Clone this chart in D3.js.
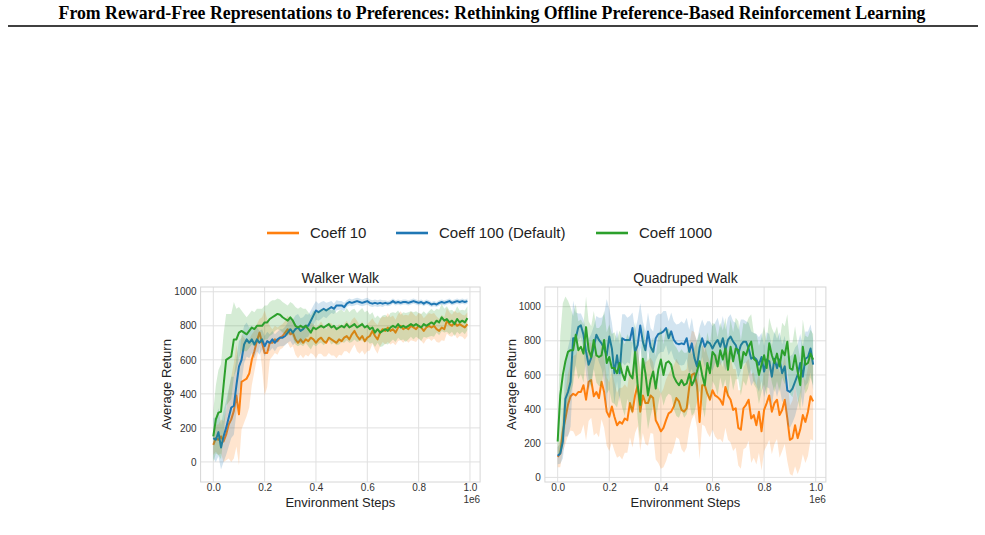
<!DOCTYPE html>
<meta charset="utf-8">
<script src="https://d3js.org/d3.v7.min.js"></script>
<style>
body { margin: 0; background: #fff; }
svg { display: block; font-family: "Liberation Sans", Arial, sans-serif; }
.grid line { stroke: #e0e0e0; stroke-width: 1px; }
.tick text { font-size: 10px; fill: #333; }
.frame { fill: none; stroke: #d6d6d6; stroke-width: 1px; }
</style>
<body></body>
<script>

// x positions, in units of 1e6 environment steps
var steps = [0,0.01,0.02,0.03,0.04,0.05,0.06,0.07,0.08,0.09,
  0.1,0.11,0.12,0.13,0.14,0.15,0.16,0.17,0.18,0.19,
  0.2,0.21,0.22,0.23,0.24,0.25,0.26,0.27,0.28,0.29,
  0.3,0.31,0.32,0.33,0.34,0.35,0.36,0.37,0.38,0.39,
  0.4,0.41,0.42,0.43,0.44,0.45,0.46,0.47,0.48,0.49,
  0.5,0.51,0.52,0.53,0.54,0.55,0.56,0.57,0.58,0.59,
  0.6,0.61,0.62,0.63,0.64,0.65,0.66,0.67,0.68,0.69,
  0.7,0.71,0.72,0.73,0.74,0.75,0.76,0.77,0.78,0.79,
  0.8,0.81,0.82,0.83,0.84,0.85,0.86,0.87,0.88,0.89,
  0.9,0.91,0.92,0.93,0.94,0.95,0.96,0.97,0.98,0.99];

var seriesNames = ['Coeff 10', 'Coeff 100 (Default)', 'Coeff 1000'];
var seriesColors = ['#ff7f0e', '#1f77b4', '#2ca02c'];

var xTicks = [0, 0.2, 0.4, 0.6, 0.8, 1.0];
var yTicks = [0, 200, 400, 600, 800, 1000];

// ---- Walker Walk ----
var walkerC10 = [100,140,130,150,120,160,220,250,300,390,
  280,470,480,490,520,600,650,710,760,700,
  640,640,700,700,720,710,730,740,760,780,
  750,760,720,700,720,700,720,710,730,720,
  700,720,730,710,700,730,720,710,700,720,
  710,730,740,720,750,770,740,720,740,710,
  730,740,770,740,720,760,780,770,790,770,
  780,760,790,800,780,790,780,800,790,780,
  800,790,770,790,800,790,800,780,770,790,
  780,830,810,800,820,800,810,800,790,810];
var walkerC10Std = [60,80,90,100,120,150,200,250,280,300,
  300,280,250,220,200,150,120,100,80,150,
  250,200,100,80,80,80,70,70,70,80,
  80,80,90,90,90,90,90,90,90,90,
  90,85,95,90,80,90,95,85,90,90,
  85,80,90,85,85,80,90,85,85,80,
  80,85,75,80,85,80,75,80,85,80,
  80,75,80,85,80,75,80,85,80,75,
  75,80,75,70,75,80,75,75,70,75,
  70,75,70,65,70,75,70,65,70,70];
var walkerC100 = [140,130,175,85,150,200,260,320,330,450,
  560,600,690,720,700,720,690,720,700,720,
  680,710,700,720,700,720,730,730,740,760,
  780,760,780,790,770,780,800,800,830,860,
  890,880,890,900,890,900,910,900,920,920,
  920,910,930,940,935,940,945,940,935,940,
  945,935,930,935,930,935,930,935,930,935,
  945,935,940,935,940,940,935,940,945,940,
  935,940,930,940,935,925,930,925,935,940,
  935,940,945,935,940,945,940,945,940,945];
var walkerC100Std = [120,130,140,130,150,160,170,180,170,160,
  150,130,110,100,90,80,80,70,70,60,
  60,55,50,50,50,45,50,50,55,60,
  70,75,80,80,75,70,70,65,60,60,
  55,50,50,45,45,40,35,30,30,25,
  25,25,20,20,20,20,20,20,20,20,
  20,20,20,20,20,20,20,15,15,15,
  15,15,15,15,15,15,15,15,15,15,
  15,15,15,15,15,15,15,15,15,15,
  15,15,15,15,15,15,15,15,15,15];
var walkerC1000 = [150,250,290,295,450,600,610,620,720,720,
  760,770,760,750,770,790,780,800,800,800,
  820,820,840,850,860,870,865,850,840,830,
  850,830,800,790,800,790,800,780,760,790,
  780,790,800,790,800,810,790,800,780,790,
  800,790,810,790,800,810,790,800,810,790,
  800,780,790,760,780,760,770,780,770,790,
  800,790,810,790,800,790,800,810,800,810,
  800,790,810,800,810,820,810,830,820,850,
  830,840,820,830,810,840,820,830,820,845];
var walkerC1000Std = [150,200,250,280,300,270,260,250,220,180,
  150,120,110,100,100,100,100,100,100,100,
  100,100,100,100,90,90,90,90,90,90,
  90,100,110,110,110,110,100,100,100,100,
  100,95,100,105,100,95,100,100,95,100,
  95,90,95,90,95,90,85,90,95,90,
  90,85,90,85,80,85,90,85,80,85,
  80,85,80,75,80,85,80,75,80,75,
  75,80,75,70,75,80,75,70,75,80,
  70,75,70,65,70,75,70,65,70,70];

// ---- Quadruped Walk ----
var quadC10 = [120,140,270,345,425,475,490,480,500,500,
  540,455,560,570,475,500,465,560,500,385,
  355,415,355,305,325,315,345,335,435,385,
  480,540,385,480,435,435,480,465,335,305,
  270,290,335,375,385,415,465,445,395,385,
  405,530,600,610,540,325,540,540,490,455,
  510,480,470,455,425,530,480,455,395,405,
  290,280,405,425,455,345,365,305,385,270,
  395,435,480,385,435,455,365,395,455,345,
  220,230,305,230,280,365,325,385,475,445];
var quadC10Std = [60,80,120,150,180,200,220,240,250,240,
  230,240,230,220,230,240,230,220,210,200,
  200,210,200,190,200,210,200,190,200,210,
  220,240,230,220,240,250,220,210,230,220,
  220,230,240,230,250,240,230,220,230,240,
  230,250,260,240,250,220,230,240,230,220,
  230,240,250,230,220,240,260,250,240,230,
  220,230,240,250,240,260,250,230,240,230,
  240,250,260,250,240,230,250,240,260,250,
  200,220,240,210,220,230,240,260,250,230];
var quadC100 = [127,140,210,460,500,560,815,815,880,890,
  835,735,660,700,765,835,805,785,755,715,
  825,755,610,715,610,815,805,805,805,875,
  735,775,890,795,745,855,765,735,815,840,
  845,855,875,815,855,805,785,780,785,780,
  815,735,785,700,650,760,815,765,795,785,
  755,785,805,765,815,745,805,825,795,775,
  725,775,795,795,755,695,705,690,660,705,
  620,690,680,590,695,640,690,610,650,510,
  500,520,560,600,670,590,695,705,755,660];
var quadC100Std = [50,60,100,220,260,260,220,150,80,70,
  90,130,150,140,120,110,130,150,200,330,
  160,150,180,150,170,140,150,130,140,90,
  130,150,130,120,110,110,110,120,130,120,
  110,120,100,100,110,110,110,120,130,120,
  120,130,150,140,150,120,110,120,120,130,
  130,120,130,110,130,120,130,130,120,130,
  140,150,130,120,150,160,140,150,160,140,
  150,160,160,180,160,170,160,170,180,200,
  210,200,200,180,170,180,160,150,140,150];
var quadC1000 = [210,480,600,680,735,745,745,835,745,765,
  725,880,745,705,805,715,705,715,805,670,
  705,640,640,610,670,610,570,650,600,580,
  735,540,425,695,610,480,570,620,520,630,
  690,600,670,680,660,590,560,540,570,540,
  550,605,540,570,620,680,600,540,670,610,
  735,715,650,745,690,755,630,765,680,755,
  745,640,735,715,765,795,695,680,600,660,
  715,640,785,715,670,725,650,745,715,795,
  640,630,715,620,540,765,660,670,725,690];
var quadC1000Std = [70,350,420,380,300,250,200,180,170,160,
  170,180,170,180,170,160,170,180,170,180,
  190,200,210,200,190,200,210,190,200,210,
  180,200,210,200,190,200,210,200,190,200,
  190,180,200,190,180,190,200,190,180,190,
  180,170,180,190,180,170,180,190,180,170,
  170,180,170,160,170,180,170,160,170,180,
  170,160,170,180,170,160,150,160,170,160,
  170,160,150,160,170,160,150,160,170,160,
  150,160,170,160,150,160,170,150,140,150];

var width = 985, height = 535;

var svg = d3.select('body').append('svg')
  .attr('width', width)
  .attr('height', height);

// page header
svg.append('text')
  .attr('x', 492)
  .attr('y', 19)
  .attr('text-anchor', 'middle')
  .style('font-family', '"Liberation Serif", "Times New Roman", serif')
  .style('font-weight', 'bold')
  .style('font-size', '17.8px')
  .style('fill', '#000')
  .text('From Reward-Free Representations to Preferences: Rethinking Offline Preference-Based Reinforcement Learning');

svg.append('line')
  .attr('x1', 8).attr('x2', 978)
  .attr('y1', 26).attr('y2', 26)
  .style('stroke', '#000')
  .style('stroke-width', 1.6);

// legend
var legendX = [267, 396, 596];
var legend = svg.selectAll('.legendItem')
  .data(seriesNames).enter().append('g')
  .attr('class', 'legendItem')
  .attr('transform', function(d, i) { return 'translate(' + legendX[i] + ',233)'; });

legend.append('line')
  .attr('x1', 0).attr('x2', 32)
  .style('stroke', function(d, i) { return seriesColors[i]; })
  .style('stroke-width', 2.6);

legend.append('text')
  .attr('x', 43)
  .attr('dy', '0.35em')
  .style('font-size', '15px')
  .style('fill', '#222')
  .text(function(d) { return d; });

function drawPanel(opts) {
  var g = svg.append('g');

  var xScale = d3.scaleLinear().domain([-0.0495, 1.0395]).range([opts.left, opts.right]);
  var yScale = d3.scaleLinear().domain(opts.yDomain).range([opts.bottom, opts.top]);

  // grid
  g.append('g').attr('class', 'grid')
    .selectAll('line').data(xTicks).enter().append('line')
    .attr('x1', function(d) { return xScale(d); })
    .attr('x2', function(d) { return xScale(d); })
    .attr('y1', opts.top).attr('y2', opts.bottom);
  g.append('g').attr('class', 'grid')
    .selectAll('line').data(yTicks).enter().append('line')
    .attr('y1', function(d) { return yScale(d); })
    .attr('y2', function(d) { return yScale(d); })
    .attr('x1', opts.left).attr('x2', opts.right);

  g.append('rect').attr('class', 'frame')
    .attr('x', opts.left).attr('y', opts.top)
    .attr('width', opts.right - opts.left)
    .attr('height', opts.bottom - opts.top);

  // axes (labels only, like seaborn whitegrid)
  var xAxis = d3.axisBottom(xScale).tickValues(xTicks).tickSize(0).tickPadding(2)
    .tickFormat(d3.format('.1f'));
  var yAxis = d3.axisLeft(yScale).tickValues(yTicks).tickSize(0).tickPadding(4)
    .tickFormat(d3.format('d'));

  var xg = g.append('g').attr('transform', 'translate(0,' + opts.bottom + ')').call(xAxis);
  var yg = g.append('g').attr('transform', 'translate(' + opts.left + ',0)').call(yAxis);
  xg.select('.domain').remove();
  yg.select('.domain').remove();
  xg.selectAll('text').style('font-family', null);
  yg.selectAll('text').style('font-family', null);

  var area = d3.area()
    .x(function(d) { return xScale(d.x); })
    .y0(function(d) { return yScale(d.m - d.s); })
    .y1(function(d) { return yScale(d.m + d.s); });
  var line = d3.line()
    .x(function(d) { return xScale(d.x); })
    .y(function(d) { return yScale(d.m); });

  var clipId = 'clip' + opts.id;
  g.append('clipPath').attr('id', clipId).append('rect')
    .attr('x', opts.left).attr('y', opts.top)
    .attr('width', opts.right - opts.left)
    .attr('height', opts.bottom - opts.top);

  var plot = g.append('g').attr('clip-path', 'url(#' + clipId + ')');

  opts.means.forEach(function(mean, i) {
    var pts = steps.map(function(x, j) { return {x: x, m: mean[j], s: opts.stds[i][j]}; });
    plot.append('path')
      .datum(pts)
      .attr('d', area)
      .style('fill', seriesColors[i])
      .style('fill-opacity', 0.2)
      .style('stroke', 'none');
    plot.append('path')
      .datum(pts)
      .attr('d', line)
      .style('fill', 'none')
      .style('stroke', seriesColors[i])
      .style('stroke-width', 2)
      .style('stroke-linejoin', 'round');
  });

  var cx = (opts.left + opts.right) / 2;

  g.append('text')
    .attr('x', cx).attr('y', opts.top - 4)
    .attr('text-anchor', 'middle')
    .style('font-size', '14px')
    .style('fill', '#222')
    .text(opts.title);

  g.append('text')
    .attr('x', cx).attr('y', 507)
    .attr('text-anchor', 'middle')
    .style('font-size', '13px')
    .style('fill', '#222')
    .text('Environment Steps');

  g.append('text')
    .attr('transform', 'translate(' + opts.yLabelX + ',' + ((opts.top + opts.bottom) / 2) + ') rotate(-90)')
    .attr('text-anchor', 'middle')
    .attr('dy', '0.35em')
    .style('font-size', '13px')
    .style('fill', '#222')
    .text('Average Return');

  g.append('text')
    .attr('x', opts.right).attr('y', 503)
    .attr('text-anchor', 'end')
    .style('font-size', '10px')
    .style('fill', '#333')
    .text('1e6');
}

drawPanel({
  id: 'walker', title: 'Walker Walk',
  left: 200.6, right: 480.1, top: 287, bottom: 482,
  yDomain: [-118, 1028], yLabelX: 166,
  means: [walkerC10, walkerC100, walkerC1000],
  stds: [walkerC10Std, walkerC100Std, walkerC1000Std]
});

drawPanel({
  id: 'quad', title: 'Quadruped Walk',
  left: 544.9, right: 825.9, top: 287, bottom: 482,
  yDomain: [-27, 1115], yLabelX: 511,
  means: [quadC10, quadC100, quadC1000],
  stds: [quadC10Std, quadC100Std, quadC1000Std]
});

</script>
